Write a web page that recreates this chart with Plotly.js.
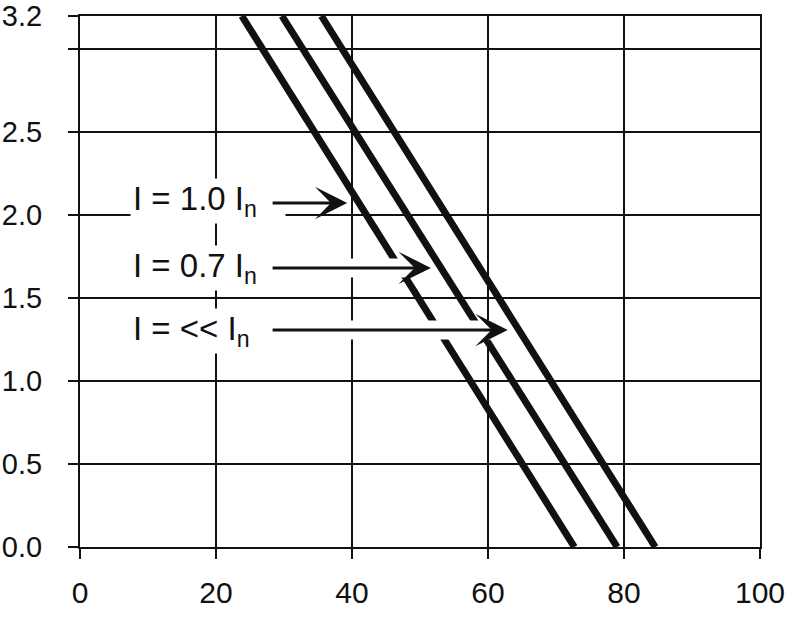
<!DOCTYPE html>
<html>
<head>
<meta charset="utf-8">
<script src="https://cdn.plot.ly/plotly-3.0.1.min.js"></script>
<style>
  html, body { margin: 0; padding: 0; background: #fff; }
  #chart { width: 790px; height: 617px; }
</style>
</head>
<body>
<div id="chart"></div>
<script>
// y range of each curve (top and bottom)
var curveY = [3.2, 0];
// x where each curve meets y=3.2 and y=0
var curve1X = [23.8, 72.7];
var curve2X = [29.7, 79.0];
var curve3X = [35.5, 84.6];

var xTicks = [0, 20, 40, 60, 80, 100];
var yTicks = [0, 0.5, 1.0, 1.5, 2.0, 2.5, 3.0, 3.2];
var yTickText = ['0.0', '0.5', '1.0', '1.5', '2.0', '2.5', '', '3.2'];

// labels and the arrow tips they point at
var labels = ['I = 1.0 I<sub>n</sub>', 'I = 0.7 I<sub>n</sub>', 'I = << I<sub>n</sub>'];
var labelY = [2.086, 1.68, 1.30];
var arrowTipX = [39.3, 51.6, 62.9];
var arrowTipY = [2.073, 1.682, 1.308];
var arrowTailX = 28.1;
var labelX = 7.35;

var lineStyle = {color: '#111', width: 7};
var data = [curve1X, curve2X, curve3X].map(function (xs) {
  return {
    x: xs,
    y: curveY,
    type: 'scatter',
    mode: 'lines',
    line: lineStyle,
    hoverinfo: 'skip'
  };
});

var annotations = [];
var shapes = [];
for (var i = 0; i < labels.length; i++) {
  annotations.push({
    xref: 'x', yref: 'y',
    x: labelX, y: labelY[i],
    xanchor: 'left', yanchor: 'middle',
    text: labels[i],
    showarrow: false,
    align: 'left',
    width: 150,
    height: 40,
    borderpad: 2,
    bgcolor: '#fff',
    font: {family: 'Liberation Sans, Arial, sans-serif', size: 33, color: '#111'}
  });
  // white band the arrow sits on, breaks lines it crosses
  shapes.push({
    type: 'line', layer: 'above',
    xref: 'x', yref: 'y',
    x0: arrowTailX, x1: arrowTipX[i],
    y0: arrowTipY[i], y1: arrowTipY[i],
    line: {color: '#fff', width: 19}
  });
  annotations.push({
    xref: 'x', yref: 'y', axref: 'x', ayref: 'y',
    x: arrowTipX[i], y: arrowTipY[i],
    ax: arrowTailX, ay: arrowTipY[i],
    text: '',
    showarrow: true,
    arrowhead: 3,
    arrowsize: 1.8,
    arrowwidth: 3,
    arrowcolor: '#111',
    standoff: 0
  });
}

var axisCommon = {
  showgrid: true,
  gridcolor: '#111',
  gridwidth: 2,
  zeroline: false,
  showline: true,
  mirror: true,
  linecolor: '#111',
  linewidth: 2,
  ticks: 'outside',
  ticklen: 10,
  tickwidth: 2,
  tickcolor: '#111',
  ticklabeloverflow: 'allow',
  tickfont: {family: 'Liberation Sans, Arial, sans-serif', size: 29, color: '#111'},
  fixedrange: true
};

var layout = {
  width: 790,
  height: 617,
  margin: {l: 80, r: 30, t: 16, b: 70},
  paper_bgcolor: '#fff',
  plot_bgcolor: '#fff',
  showlegend: false,
  xaxis: Object.assign({}, axisCommon, {
    range: [0, 100],
    tickmode: 'array',
    tickvals: xTicks,
    ticklabelstandoff: 8,
    tickfont: {family: 'Liberation Sans, Arial, sans-serif', size: 30, color: '#111'}
  }),
  yaxis: Object.assign({}, axisCommon, {
    range: [0, 3.2],
    tickmode: 'array',
    tickvals: yTicks,
    ticktext: yTickText,
    ticklabelstandoff: 20
  }),
  annotations: annotations,
  shapes: shapes
};

Plotly.newPlot('chart', data, layout, {displayModeBar: false, staticPlot: true});
</script>
</body>
</html>
